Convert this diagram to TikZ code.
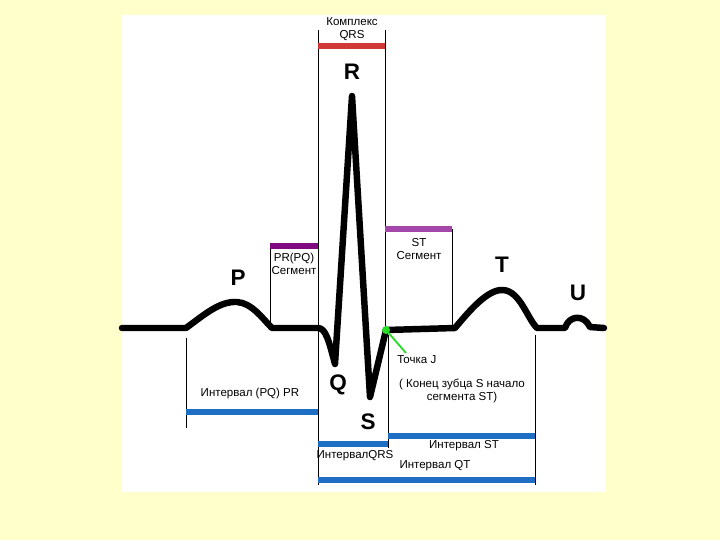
\documentclass[tikz,border=0pt]{standalone}
\usepackage{fontspec}
\setmainfont{Liberation Sans}
\usepackage{tikz}
\usetikzlibrary{calc}
\usetikzlibrary{positioning}

\definecolor{bgyellow}{RGB}{255,255,204}
\definecolor{qrsred}{RGB}{210,55,55}
\definecolor{segpurple}{RGB}{128,10,128}
\definecolor{stpurple}{RGB}{165,70,170}
\definecolor{intblue}{RGB}{30,110,195}
\definecolor{jgreen}{RGB}{40,220,40}

\tikzset{
  ecg/.style={line width=4.6pt, line join=round, line cap=round},
  guide/.style={line width=0.65pt},
  bar/.style={line width=3.6pt},
  wave/.style={font=\fontsize{16}{18}\selectfont\bfseries, inner sep=0pt},
  lbl/.style={font=\fontsize{8.2}{9.5}\selectfont, inner sep=0pt, align=center}
}

\begin{document}
\begin{tikzpicture}[x=0.025cm, y=-0.025cm]
                \fill[bgyellow] (0,0) rectangle (720,540);
                \fill[white] (122,15) rectangle (606,492);
                % thin guide lines
                \draw[guide] (186,338) -- (186,428);
                \draw[guide] (270,243) -- (270,325);
                \draw[guide] (318,30) -- (318,485);
                \draw[guide] (385,30) -- (385,328);
                \draw[guide] (452,229) -- (452,325);
                \draw[guide] (388,335) -- (388,448);
                \draw[guide] (535,335) -- (535,485);
                % coloured bars
                \draw[bar, qrsred] (318,46) -- (385,46);
                \draw[bar, segpurple] (270,246) -- (318,246);
                \draw[bar, stpurple] (385,229) -- (452,229);
                \draw[bar, intblue] (186,412) -- (318,412);
                \draw[bar, intblue] (318,444) -- (388,444);
                \draw[bar, intblue] (388,436) -- (535,436);
                \draw[bar, intblue] (318,480) -- (535,480);
                % the ECG curve
                \draw[ecg] (122,328) -- (186,328)
                    .. controls (205,314) and (220,301) .. (237,302)
                    .. controls (252,303) and (262,318) .. (272,328)
                    -- (318,328) .. controls (326,328) and (329,342) .. (335,364)
                    -- (352,96) -- (370,397) -- (386,330)
                    -- (455,328) .. controls (470,310) and (488,289) .. (503,290)
                    .. controls (520,291) and (527,318) .. (537,328)
                    -- (565,328) .. controls (569,315) and (584,314) .. (590,327)
                    -- (604,328);
                % point J
                \coordinate (J) at (386,330);
                \coordinate (Jend) at (406,353);
                \node[lbl, anchor=west] (tochka) at (397,360) {Точка J};
                \draw[jgreen, line width=1.3pt] (J) -- (Jend);
                \fill[jgreen] (J) circle (4);
                % wave letters
                \node[wave] (P) at (238,278) {P};
                \node[wave] (Q) at (338,385) {Q};
                \node[wave] (R) at (352,72) {R};
                \node[wave] (S) at (368,422) {S};
                \node[wave] (T) at (502,265) {T};
                \node[wave] (U) at (578,293) {U};
                % texts
                \node[lbl] (kompleks) at (352,29) {Комплекс\\QRS};
                \node[lbl] (prseg) at (294,264) {PR(PQ)\\Сегмент};
                \node[lbl] (stseg) at (419,249) {ST\\Сегмент};
                \node[lbl] (intpr) at (250,394) {Интервал (PQ) PR};
                \node[lbl] (konec) at (462,391) {( Конец зубца S начало\\сегмента ST)};
                \node[lbl] (intst) at (464,446) {Интервал ST};
                \node[lbl] (intqrs) at (355,456) {ИнтервалQRS};
                \node[lbl] (intqt) at (435,466) {Интервал QT};
\end{tikzpicture}
\end{document}
